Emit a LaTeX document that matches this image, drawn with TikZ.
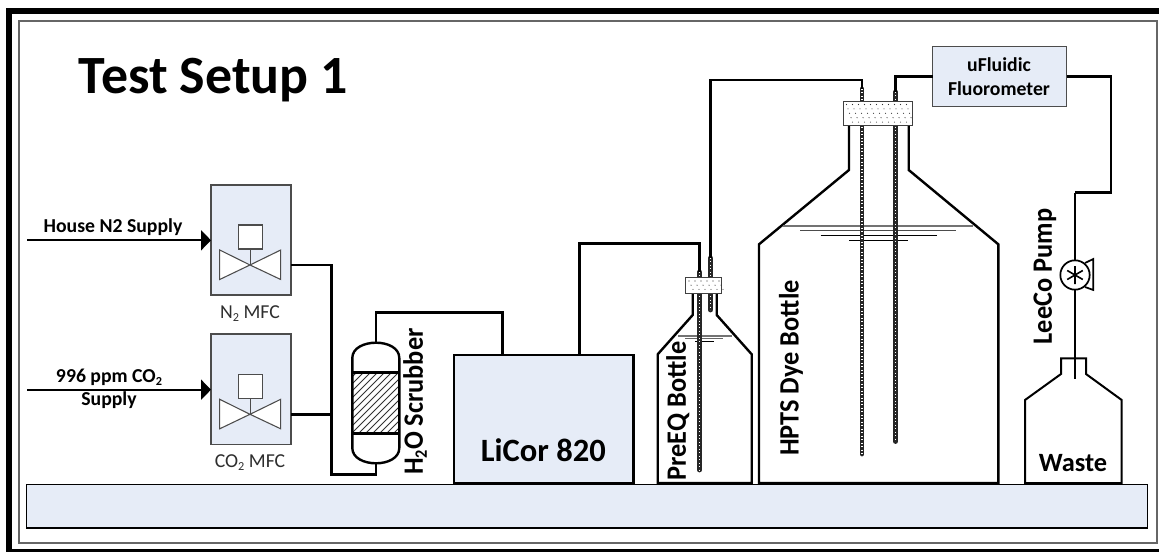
\documentclass[tikz,border=0pt]{standalone}
\usepackage{fontspec}
\setmainfont{Carlito}
\usetikzlibrary{arrows.meta,calc}
\definecolor{panel}{HTML}{E6ECF7}
\definecolor{framegray}{HTML}{666666}
\newcommand\lowtwo{\raisebox{-0.3ex}{\scalebox{0.62}{2}}}
\newcommand\fsz[1]{\fontsize{#1}{#1}\selectfont}
\newcommand\lbltxt[1]{\scalebox{0.94}[1]{\fsz{21}\bfseries #1}}
\tikzset{
  px/.style={x=0.75pt,y=-0.75pt},
  panelbox/.style={draw=#1,fill=panel,line width=1.1pt,inner sep=0pt,outer sep=0pt},
  panelbox/.default=black!70,
  pipe/.style={draw=black,line width=1.9pt,line join=miter},
  thin pipe/.style={draw=black,line width=1.3pt},
  glass/.style={draw=black,line width=1.8pt,line join=miter},
  valve/.style={draw=black!70,line width=.8pt,fill=white},
  tube/.style={draw=black!85,line width=3.6pt,line cap=round,
    postaction={draw=white,line width=.9pt,line cap=butt,dash pattern=on .7pt off 1.9pt}},
  bung/.style={draw=black!75,line width=.9pt,fill=white,inner sep=0pt,outer sep=0pt},
  feed/.style={draw=black,line width=1.7pt,-{Triangle[length=7.5pt,width=15pt]}},
  liquid/.style={draw=black,line width=.7pt},
  bt/.style={font=\bfseries\fsz{14.8},align=center,inner sep=0pt},
  lab/.style={rotate=90,inner sep=0pt},
  mfclab/.style={font=\fsz{14.8},text=black!82,inner sep=0pt},
}
\begin{document}
\begin{tikzpicture}[px]
\useasboundingbox (0,0) rectangle (1159,552);
\fill[white] (0,0) rectangle (1159,552);
% frame
\fill[black] (6,8) rectangle (1159,14);
\fill[black] (6,8) rectangle (12,552);
\fill[black] (6,549) rectangle (1159,552);
\draw[framegray,line width=1.5pt] (18.5,21.5) rectangle (1157,543);
% table
\node[panelbox=black,minimum width=840.75pt,minimum height=32.6pt] (table) at (586.8,506.3) {};
% title
\node[font=\bfseries\fsz{40.4},inner sep=0pt] (title) at (213.5,80) {Test Setup 1};
% MFC boxes
\node[panelbox,minimum width=60pt,minimum height=82.7pt] (nmfc) at (251,240) {};
\node[panelbox,minimum width=60pt,minimum height=82.7pt] (cmfc) at (251,389.3) {};
\foreach \c/\yy in {nmfc/240,cmfc/389.3}{
  \node[valve,minimum size=18pt,inner sep=0pt,outer sep=0pt] (\c act) at (250.3,\yy-3) {};
  \draw[valve] (250,\yy+25) -- (219.7,\yy+10) -- (219.7,\yy+39.5) -- (250,\yy+25) -- (280.7,\yy+10) -- (280.7,\yy+39.5) -- cycle;
  \draw[valve,fill=none] (\c act.south) -- (250.3,\yy+25);
}
\node[mfclab] (nlab) at (250,314) {N\lowtwo{} MFC};
\node[mfclab] (clab) at (250,463) {CO\lowtwo{} MFC};
% feeds
\coordinate (nin) at (27,240.3);
\coordinate (cin) at (27,389.7);
\draw[feed] (nin) -- (nmfc.west |- nin);
\draw[feed] (cin) -- (cmfc.west |- cin);
\node[bt] (nfeed) at (113,227) {House N2 Supply};
\node[bt] (cfeed1) at (109,377) {996 ppm CO\lowtwo};
\node[bt] (cfeed2) at (109,400) {Supply};
% scrubber
\coordinate (sctop) at (376,342.7);
\coordinate (scbot) at (376,463.3);
\coordinate (j1) at (331.5,265);
\coordinate (j2) at (331.5,414.5);
\coordinate (j3) at (331.5,474.3);
\coordinate (j4) at (376,474.3);
\begin{scope}
  \clip (352.3,372.3) rectangle (399.3,433.3);
  \foreach \h in {0,7,...,112}{
    \draw[black!80,line width=.6pt] (345+\h,370) -- (345+\h-70,440);
  }
\end{scope}
\draw[glass] (352.3,372.3) -- (352.3,358) .. controls (352.3,348) and (364,342.7) .. (sctop)
  .. controls (388,342.7) and (399.3,348) .. (399.3,358) -- (399.3,448)
  .. controls (399.3,458) and (388,463.3) .. (scbot)
  .. controls (364,463.3) and (352.3,458) .. (352.3,448) -- cycle;
\draw[glass] (352.3,372.3) -- (399.3,372.3) (352.3,433.3) -- (399.3,433.3);
\draw[pipe] (nmfc.east |- j1) -- (j1) -- (j3) -- (j4) -- (scbot);
\draw[pipe] (cmfc.east |- j2) -- (j2);
\node[lab] (sclab) at (415,401.5) {\lbltxt{H\lowtwo{}O Scrubber}};
% LiCor
\node[panelbox=black,line width=1.7pt,minimum width=134.5pt,minimum height=96.5pt] (licor) at (543.7,419) {};
\node[font=\bfseries\fsz{24.4},inner sep=0pt] (licorlab) at (543.3,450) {LiCor 820};
\coordinate (p1) at (376,312.7);
\coordinate (p2) at (502.5,312.7);
\draw[pipe] (sctop) -- (p1) -- (p2) -- (p2 |- licor.north);
% PreEQ bottle
\draw[glass] (692.7,293.3) -- (692.7,315) -- (657.7,354.3) -- (657.7,483) -- (751.7,483) -- (751.7,354.3) -- (716.7,315) -- (716.7,293.3);
\draw[black!55,line width=1.1pt] (678,336) -- (731.7,336);
\draw[black!60,line width=.9pt] (685,338.7) -- (723,338.7);
\draw[liquid] (695,341.3) -- (714,341.3);
\coordinate (pa) at (699.3,272);
\coordinate (pb) at (699.3,470);
\coordinate (pc) at (710.3,258);
\coordinate (pd) at (710.3,310);
\draw[tube] (pa) -- (pb);
\draw[tube] (pc) -- (pd);
\node[bung,minimum width=27pt,minimum height=12pt] (pbung) at (703.7,285.3) {};
\foreach \i in {0,...,5}{\foreach \j in {0,1,2}{
  \fill[black!80] (689+\i*6+\j*2,281+\j*4.2) circle (.42pt);
}}
\node[lab] (prelab) at (677.7,411) {\lbltxt{PreEQ Bottle}};
% pipe LiCor to PreEQ
\coordinate (q1) at (579.3,243.3);
\draw[pipe] (licor.north -| q1) -- (q1) -- (q1 -| pa) -- (pa);
% HPTS bottle
\draw[glass] (849,125.3) -- (849,170) -- (759,244.3) -- (759,483) -- (998.3,483) -- (998.3,244.3) -- (908.7,170) -- (908.7,125.3);
\draw[black!55,line width=1.2pt] (783,226) -- (973,226);
\draw[black!70,line width=.8pt] (800,230.5) -- (956,230.5);
\draw[liquid] (820.7,235.3) -- (937,235.3);
\draw[liquid] (849,240) -- (908,240);
\coordinate (ha) at (862,89);
\coordinate (hb) at (862,454);
\coordinate (hc) at (895.7,92);
\coordinate (hd) at (895.7,441.5);
\draw[tube] (ha) -- (hb);
\draw[tube] (hc) -- (hd);
\node[bung,minimum width=51.75pt,minimum height=18pt] (hbung) at (878.2,113.3) {};
\foreach \i in {0,...,10}{\foreach \j in {0,...,4}{
  \fill[black!80] (846.5+\i*6+\j*1.5,104.5+\j*4.4) circle (.42pt);
}}
\node[lab] (hplab) at (791,368) {\lbltxt{HPTS Dye Bottle}};
% pipe PreEQ to HPTS
\coordinate (r1) at (710.3,80);
\coordinate (r2) at (862,80);
\draw[pipe] (pc) -- (r1) -- (r2) -- (ha);
% fluorometer
\node[panelbox,minimum width=100.5pt,minimum height=45pt] (fluo) at (999.7,76.7) {};
\node[bt] (fl1) at (999,65) {uFluidic};
\node[bt] (fl2) at (999,88.5) {Fluorometer};
\coordinate (f0) at (895.7,76.7);
\draw[pipe] (hc) -- (f0) -- (fluo.west |- f0);
% pump and waste
\coordinate (w1) at (1111,76.7);
\coordinate (w2) at (1111,192.7);
\coordinate (w3) at (1075,192.7);
\coordinate (w4) at (1075,378.5);
\draw[thin pipe] (1085,263) -- (1093.3,259) -- (1093.3,290) -- (1085,287);
\node[circle,draw=black,line width=1.3pt,fill=white,minimum size=22pt,inner sep=0pt,outer sep=0pt] (pump) at (1075,275) {};
\draw[black,line width=1.2pt] (1075,266) -- (1075,284) (1067.2,270.5) -- (1082.8,279.5) (1067.2,279.5) -- (1082.8,270.5);
\draw[pipe] (fluo.east |- w1) -- (w1) -- (w2) -- (w3);
\draw[thin pipe] (w3) -- (pump.north);
\draw[thin pipe] (pump.south) -- (w4);
\draw[glass,line width=1.5pt] (1061,358.3) -- (1086,358.3) -- (1086,374) -- (1121.7,400) -- (1121.7,483) -- (1025,483) -- (1025,400) -- (1061,374) -- cycle;
\node[lab] (pumplab) at (1045,276.5) {\lbltxt{LeeCo Pump}};
\node[font=\bfseries\fsz{19.8},inner sep=0pt] (wastelab) at (1073,463) {Waste};
\end{tikzpicture}
\end{document}
